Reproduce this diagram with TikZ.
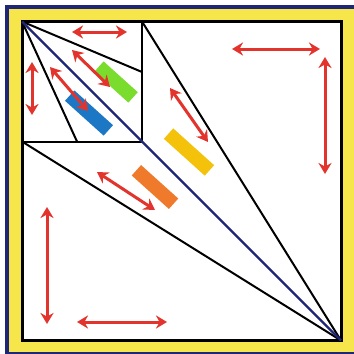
\documentclass[tikz,border=0pt]{standalone}
\usepackage{tikz}
\usetikzlibrary{arrows.meta}
\definecolor{framenavy}{HTML}{1E2678}
\definecolor{frameyellow}{HTML}{F6E64C}
\definecolor{arrowred}{HTML}{E2342C}
\definecolor{bargreen}{HTML}{7ADC2C}
\definecolor{barblue}{HTML}{1C78C4}
\definecolor{baryellow}{HTML}{F4C20A}
\definecolor{barorange}{HTML}{F07A2C}
\tikzset{
    edgeline/.style={black, line width=2pt},
    diagline/.style={framenavy, line width=2.4pt},
    move/.style={arrowred, line width=3pt, {Stealth[length=11pt,width=13pt]}-{Stealth[length=11pt,width=13pt]}},
    bar/.style={rectangle, minimum width=52pt, minimum height=14pt, inner sep=0pt, rotate=-42}
}

\begin{document}
\begin{tikzpicture}[x=1pt,y=-1pt]
    \useasboundingbox (0,0) rectangle (354,354);
    % frame
    \fill[framenavy] (5,5) rectangle (358,355);
    \fill[frameyellow] (8.5,8.5) rectangle (358,351.5);
    \draw[line width=3pt, fill=white] (22,21.5) rectangle (341,340.5);

    \coordinate (A) at (22,21.5);
    \coordinate (C) at (341,340.5);
    \coordinate (T) at (142,21.5);
    \coordinate (L) at (22,141.5);
    \coordinate (S) at (142,141.5);
    \coordinate (R) at (142,72);
    \coordinate (B) at (77,141.5);

    % fan lines
    \draw[edgeline] (T) -- (S) -- (L);
    \draw[edgeline] (A) -- (R);
    \draw[edgeline] (A) -- (B);
    \draw[edgeline] (T) -- (C);
    \draw[edgeline] (L) -- (C);
    \draw[diagline] (A) -- (C);

    % bars
    \node[bar, fill=bargreen, minimum width=46pt] (greenbar) at (116,82) {};
    \node[bar, fill=barblue] (bluebar) at (89,113) {};
    \node[bar, fill=baryellow, minimum width=55pt] (yellowbar) at (189,152) {};
    \node[bar, fill=barorange, minimum width=50pt] (orangebar) at (155,187) {};

    % arrows
    \draw[move] (72,32) -- (127,32);
    \draw[move] (32,62) -- (32,115);
    \draw[move] (72,50) -- (110,87);
    \draw[move] (50,67) -- (88,111);
    \draw[move] (232,49) -- (320,49);
    \draw[move] (325,57) -- (325,174);
    \draw[move] (170,88) -- (208,142);
    \draw[move] (97,172) -- (155,210);
    \draw[move] (47,207) -- (47,324);
    \draw[move] (77,322) -- (167,322);
\end{tikzpicture}
\end{document}
